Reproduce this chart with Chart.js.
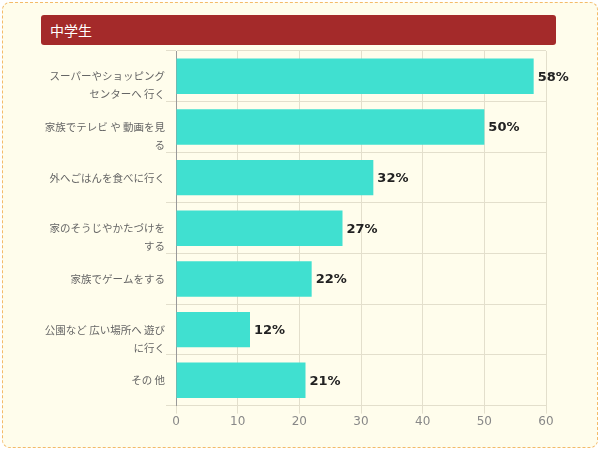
<!DOCTYPE html>
<html>
<head>
<meta charset="utf-8">
<script src="https://cdn.jsdelivr.net/npm/chart.js@4"></script>
<style>
  body { margin: 0; background: #fff; font-family: "Noto Sans CJK JP", sans-serif; }
  #box {
    position: absolute; left: 2px; top: 2px; width: 594px; height: 444px;
    border: 1px dashed #f4bb6a; border-radius: 8px; background: #fffdec;
  }
  #title {
    position: absolute; left: 41px; top: 15px; width: 515px; height: 30px;
    background: #a42a2a; border-radius: 3px; color: #fff; font-size: 14px;
    line-height: 30px; padding-left: 9px; box-sizing: border-box;
  }
  #wrap { position: absolute; left: 0; top: 0; width: 600px; height: 450px; }
</style>
</head>
<body>
<div id="box"></div>
<div id="title">中学生</div>
<div id="wrap"><canvas id="chart"></canvas></div>
<script>
// 先頭の空行で、2行ラベルの1行目をバーの中心に合わせる
const categories = [
  ["", "スーパーやショッピング", "センターへ 行く"],
  ["", "家族でテレビ や 動画を見", "る"],
  "外へごはんを食べに行く",
  ["", "家のそうじやかたづけを", "する"],
  "家族でゲームをする",
  ["", "公園など 広い場所へ 遊び", "に行く"],
  "その 他"
];
const values = [58, 50, 32, 27, 22, 12, 21];
const xTicks = [0, 10, 20, 30, 40, 50, 60];

const valueLabels = {
  id: "valueLabels",
  afterDatasetsDraw(chart) {
    const ctx = chart.ctx;
    const meta = chart.getDatasetMeta(0);
    ctx.save();
    ctx.font = "bold 13px 'DejaVu Sans', sans-serif";
    ctx.fillStyle = "#222";
    ctx.textBaseline = "middle";
    ctx.textAlign = "left";
    meta.data.forEach((bar, i) => {
      ctx.fillText(values[i] + "%", bar.x + 4, bar.y + 1);
    });
    ctx.restore();
  }
};

new Chart(document.getElementById("chart"), {
  type: "bar",
  data: {
    labels: categories,
    datasets: [{
      data: values,
      backgroundColor: "#40e0d0",
      barPercentage: 0.7,
      categoryPercentage: 1
    }]
  },
  options: {
    indexAxis: "y",
    responsive: true,
    maintainAspectRatio: false,
    animation: false,
    layout: { padding: { top: 51, right: 54, bottom: 20, left: 20 } },
    plugins: { legend: { display: false }, tooltip: { enabled: false } },
    scales: {
      x: {
        min: 0, max: 60,
        afterBuildTicks: s => { s.ticks = xTicks.map(v => ({ value: v })); },
        grid: { color: "#e3dfcc", tickLength: 8 },
        border: { color: "#e3dfcc" },
        ticks: { color: "#888", font: { size: 12, family: "'DejaVu Sans', sans-serif" }, padding: 1 }
      },
      y: {
        afterFit: s => { s.width = 156; },
        grid: { color: "#e3dfcc", tickLength: 10, offset: true },
        border: { color: "#999" },
        ticks: {
          autoSkip: false,
          color: "#666",
          padding: 1,
          font: { size: 10.5, family: "'Noto Sans CJK JP', sans-serif", lineHeight: "18px" }
        }
      }
    }
  },
  plugins: [valueLabels]
});
</script>
</body>
</html>
